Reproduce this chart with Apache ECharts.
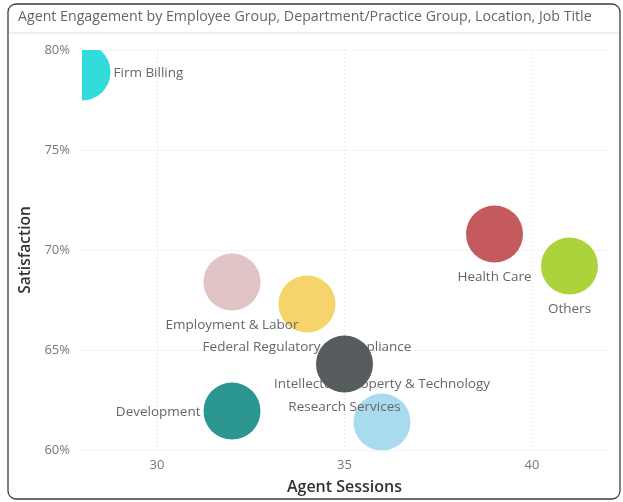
<!DOCTYPE html>
<html>
<head>
<meta charset="utf-8">
<script src="https://cdn.jsdelivr.net/npm/echarts@6/dist/echarts.min.js"></script>
<style>
html,body{margin:0;padding:0;background:#fff;}
#chart{width:623px;height:502px;}
</style>
</head>
<body>
<div id="chart"></div>
<script>
// ---- data ----
const names = ['Firm Billing', 'Health Care', 'Others', 'Federal Regulatory & Compliance', 'Employment & Labor', 'Development', 'Intellectual Property & Technology', 'Research Services'];
const agentSessions = [28, 39, 41, 34, 32, 32, 36, 35];
const satisfaction = [78.9, 70.8, 69.2, 67.3, 68.4, 61.95, 61.4, 64.3];
const bubbleSize = [57, 57, 57, 57, 57, 57, 57, 57];
const xTicks = [30, 35, 40];
const yTicks = [60, 65, 70, 75, 80];

// ---- styles ----
const colors = ['#33dcdc', '#c45a5e', '#acd23c', '#f5d46c', '#e0c3c5', '#2a968f', '#a8dbee', '#565b5d'];
const labelPlace = {
  'Firm Billing': 'right', 'Health Care': 'bottom', 'Others': 'bottom',
  'Federal Regulatory & Compliance': 'bottom', 'Employment & Labor': 'bottom',
  'Development': 'left', 'Intellectual Property & Technology': 'top', 'Research Services': 'bottom'
};
const FONT = '"Segoe UI", "Open Sans", sans-serif';

const data = names.map((n, i) => [agentSessions[i], satisfaction[i], bubbleSize[i], i]);

const chart = echarts.init(document.getElementById('chart'), null, {renderer: 'canvas'});
chart.setOption({
  animation: false,
  graphic: [
    {type: 'rect', shape: {x: 8, y: 4, width: 612, height: 495, r: 8}, style: {fill: 'none', stroke: '#3c3c3c', lineWidth: 1.3}, z: 100},
    {type: 'line', shape: {x1: 9, y1: 33, x2: 619, y2: 33}, style: {stroke: '#dcdcdc', lineWidth: 1}},
    {type: 'text', left: 18, top: 10, style: {text: 'Agent Engagement by Employee Group, Department/Practice Group, Location, Job Title', fill: '#666', font: '14.2px ' + FONT}}
  ],
  grid: {left: 82, right: 16, top: 50, bottom: 52},
  xAxis: {
    type: 'value', min: 28, max: 42, splitNumber: 3,
    name: 'Agent Sessions', nameLocation: 'middle', nameGap: 29,
    nameTextStyle: {color: '#333', fontSize: 16, fontFamily: FONT, fontWeight: 600},
    axisLine: {show: false}, axisTick: {show: false},
    axisLabel: {color: '#777', fontSize: 13, fontFamily: FONT, margin: 9, showMinLabel: false, showMaxLabel: false,
      formatter: v => xTicks.includes(v) ? String(v) : ''},
    splitLine: {show: true, showMinLine: false, showMaxLine: false, lineStyle: {color: '#d8d8d8', type: [1, 3], width: 1}}
  },
  yAxis: {
    type: 'value', min: yTicks[0], max: yTicks[yTicks.length - 1], interval: 5,
    name: 'Satisfaction', nameLocation: 'middle', nameGap: 45, nameRotate: 90,
    nameTextStyle: {color: '#333', fontSize: 15.5, fontFamily: FONT, fontWeight: 600},
    axisLine: {show: false}, axisTick: {show: false},
    axisLabel: {color: '#777', fontSize: 13, fontFamily: FONT, margin: 12, formatter: '{value}%'},
    splitLine: {show: true, lineStyle: {color: '#d8d8d8', type: [1, 3], width: 1}}
  },
  series: [{
    type: 'custom',
    clip: true,
    data: data,
    encode: {x: 0, y: 1},
    renderItem: function (params, api) {
      const i = api.value(3);
      const p = api.coord([api.value(0), api.value(1)]);
      const r = api.value(2) / 2;
      const place = labelPlace[names[i]];
      let tx = p[0], ty = p[1] + 1, align = 'center';
      if (place === 'bottom') ty = p[1] + r + 14.5;
      else if (place === 'top') ty = p[1] - r - 9;
      else if (place === 'right') { tx = p[0] + r + 3; align = 'left'; }
      else if (place === 'left') { tx = p[0] - r - 3; align = 'right'; }
      return {
        type: 'group',
        children: [
          {type: 'circle', shape: {cx: p[0], cy: p[1], r: r}, style: {fill: colors[i]}},
          {type: 'text', x: tx, y: ty, style: {text: names[i], fill: '#666', font: '13.5px ' + FONT, align: align, verticalAlign: 'middle'}}
        ]
      };
    }
  }]
});
</script>
</body>
</html>
